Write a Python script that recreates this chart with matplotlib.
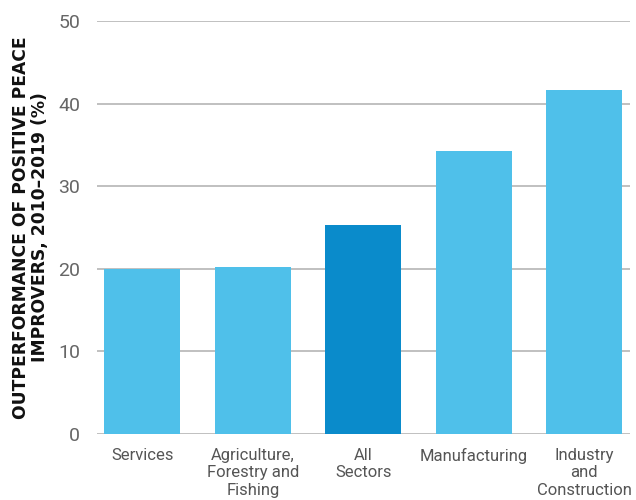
import matplotlib
matplotlib.use("Agg")
import matplotlib.pyplot as plt

categories = [
    "Services",
    "Agriculture,\nForestry and\nFishing",
    "All\nSectors",
    "Manufacturing",
    "Industry\nand\nConstruction",
]
values = [20.0, 20.2, 25.3, 34.3, 41.6]
highlight = "All\nSectors"

plt.rcParams["font.family"] = ["Roboto", "DejaVu Sans"]

fig = plt.figure(figsize=(6.36, 5.0), dpi=100)
ax = fig.add_axes([0.1525, 0.132, 0.8375, 0.826])

colors = [
    "#0A8BCB" if c == highlight else "#4FC0EA"
    for c in categories
]

x = range(len(categories))

ax.bar(
    x,
    values,
    width=0.69,
    color=colors,
    zorder=3
)

ax.set_ylim(0, 50)
ax.set_xlim(-0.41, 4.41)
ax.set_yticks([0, 10, 20, 30, 40, 50])

ax.yaxis.grid(True, color="#b5b5b5", linewidth=1.2, zorder=0)
ax.set_axisbelow(True)

for s in ax.spines.values():
    s.set_visible(False)

ax.tick_params(axis="y", length=0, pad=12, labelsize=14, labelcolor="#666666")
ax.tick_params(axis="x", length=0, pad=10, labelsize=12, labelcolor="#555555")

ax.set_xticks(list(x))
ax.set_xticklabels(categories, linespacing=1.2, va="top")

ax.set_ylabel(
    "OUTPERFORMANCE OF POSITIVE PEACE\nIMPROVERS, 2010\u20132019 (%)",
    family="DejaVu Sans",
    fontsize=12.3,
    fontweight="bold",
    color="#111111",
    labelpad=7,
    linespacing=1.05,
    ha="center",
    multialignment="center"
)

fig.savefig("out.png", dpi=100)
plt.close(fig)
